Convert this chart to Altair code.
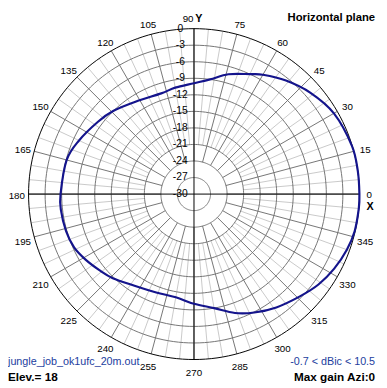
import altair as alt
import pandas as pd
import numpy as np

# ---------------- data ----------------
azimuth_deg = [0, 8, 17, 30, 41, 51, 60, 65, 74, 82, 90, 100, 108, 122, 134, 143,
               155, 165, 180, 187, 196, 204, 211, 219, 226, 237, 249, 260, 270,
               280, 289, 297, 306, 316, 324, 332, 340, 347, 355]
gain_db = [0.0, 0.0, -0.05, -0.7, -2.0, -3.5, -5.0, -6.0, -7.4, -9.0, -9.9, -10.4,
           -10.8, -10.2, -9.0, -8.2, -7.0, -6.1, -5.8, -5.7, -5.85, -6.2, -7.0,
           -8.0, -8.8, -10.2, -10.9, -11.0, -10.1, -9.0, -7.2, -5.9, -4.6, -3.3,
           -2.1, -1.2, -0.5, -0.1, 0.0]

ring_levels = [-27, -24, -21, -18, -15, -12, -9, -6, -3]
ring_label_levels = [0, -3, -6, -9, -12, -15, -18, -21, -24, -27, -30]
ring_label_texts = ["0", "-3", "-6", "-9", "-12", "-15", "-18", "-21", "-24", "-27", "-30"]

angle_label_deg = [0, 15, 30, 45, 60, 75, 90, 105, 120, 135, 150, 165, 180,
                   195, 210, 225, 240, 255, 270, 285, 300, 315, 330, 345]
angle_label_txt = [str(a) for a in angle_label_deg]

axis_letters = ["X", "Y"]
axis_letter_deg = [0, 90]

title_text = "Horizontal plane"
file_text = "jungle_job_ok1ufc_20m.out"
elev_text = "Elev.= 18"
range_text = "-0.7 < dBic < 10.5"
maxgain_text = "Max gain Azi:0"

# ---------------- geometry / style ----------------
R = 169          # radius (scale units) of the 0 dB ring
DBMIN = -30
LBL_R = 181
FONT = "Liberation Sans"

xs = alt.Scale(domain=[-190, 189], nice=False, zero=False)
ys = alt.Scale(domain=[-194, 186], nice=False, zero=False)


def rad(expr):
    return f"({expr} - ({DBMIN})) / {-DBMIN} * {R}"


# pattern curve
pat = pd.DataFrame({"az": azimuth_deg, "g": gain_db})
curve = alt.Chart(pat).transform_calculate(
    r=rad("datum.g")
).transform_calculate(
    x="datum.r * cos(datum.az * PI / 180)",
    y="datum.r * sin(datum.az * PI / 180)",
).mark_line(interpolate="cardinal-closed", color="#14148c", strokeWidth=2.2).encode(
    x=alt.X("x:Q", scale=xs, axis=None),
    y=alt.Y("y:Q", scale=ys, axis=None),
    order="az:Q",
)

# rings
ring_angles = np.arange(0, 361, 2)
rings_df = pd.DataFrame([(lv, a) for lv in ring_levels for a in ring_angles], columns=["lv", "a"])
outer_df = pd.DataFrame({"lv": 0, "a": ring_angles})


def ring_chart(df, color):
    return alt.Chart(df).transform_calculate(
        r=rad("datum.lv")
    ).transform_calculate(
        x="datum.r * cos(datum.a * PI / 180)",
        y="datum.r * sin(datum.a * PI / 180)",
    ).mark_line(color=color, strokeWidth=1).encode(
        x=alt.X("x:Q", scale=xs, axis=None),
        y=alt.Y("y:Q", scale=ys, axis=None),
        detail="lv:N",
        order="a:Q",
    )


rings = ring_chart(rings_df, "#747474")
outer = ring_chart(outer_df, "#000000")

# spokes
spk = pd.DataFrame({"a": np.arange(0, 360, 5)})
spk["major"] = spk["a"] % 15 == 0


def spoke_chart(df, r0, color):
    return alt.Chart(df).transform_calculate(
        x=f"{r0} * cos(datum.a * PI / 180)",
        y=f"{r0} * sin(datum.a * PI / 180)",
        x2=f"{R} * cos(datum.a * PI / 180)",
        y2=f"{R} * sin(datum.a * PI / 180)",
    ).mark_rule(color=color, strokeWidth=1).encode(
        x=alt.X("x:Q", scale=xs, axis=None),
        y=alt.Y("y:Q", scale=ys, axis=None),
        x2="x2:Q",
        y2="y2:Q",
    )


light_spokes = spoke_chart(spk[~spk["major"]], 9 / -DBMIN * R, "#c9c9c9")
dark_spokes = spoke_chart(spk[spk["major"]], 6 / -DBMIN * R, "#747474")

# main axes (X and Y)
axes_df = pd.DataFrame({"a": [0, 90]})
axes = alt.Chart(axes_df).transform_calculate(
    x=f"-{R} * cos(datum.a * PI / 180)",
    y=f"-{R} * sin(datum.a * PI / 180)",
    x2=f"{R} * cos(datum.a * PI / 180)",
    y2=f"{R} * sin(datum.a * PI / 180)",
).mark_rule(color="#000000", strokeWidth=1).encode(
    x=alt.X("x:Q", scale=xs, axis=None),
    y=alt.Y("y:Q", scale=ys, axis=None),
    x2="x2:Q",
    y2="y2:Q",
)

# ring labels along vertical axis
rl = pd.DataFrame({"lv": ring_label_levels, "t": ring_label_texts})
ring_labels = alt.Chart(rl).transform_calculate(
    y=rad("datum.lv"), x="-14"
).mark_text(font=FONT, fontSize=10.5, color="#000000", align="center", baseline="middle").encode(
    x=alt.X("x:Q", scale=xs, axis=None),
    y=alt.Y("y:Q", scale=ys, axis=None),
    text="t:N",
)

# angle labels
al = pd.DataFrame({"a": angle_label_deg, "t": angle_label_txt})
angle_labels = alt.Chart(al).transform_calculate(
    x=f"{LBL_R} * cos(datum.a * PI / 180) + (datum.a == 90 ? -6 : 0) + (datum.a == 0 ? -2 : 0)",
    y=f"{LBL_R} * sin(datum.a * PI / 180) - 2 + (datum.a == 0 ? 1 : 0)",
).mark_text(font=FONT, fontSize=10, color="#000000", align="center", baseline="middle").encode(
    x=alt.X("x:Q", scale=xs, axis=None),
    y=alt.Y("y:Q", scale=ys, axis=None),
    text="t:N",
)

lt = pd.DataFrame({"a": axis_letter_deg, "t": axis_letters})
letters = alt.Chart(lt).transform_calculate(
    x=f"{LBL_R} * cos(datum.a * PI / 180) + (datum.a == 90 ? 5 : -1)",
    y=f"{LBL_R} * sin(datum.a * PI / 180) - 2 + (datum.a == 0 ? -11 : 0)",
).mark_text(font=FONT, fontSize=11, fontWeight="bold", color="#000000",
            align="center", baseline="middle").encode(
    x=alt.X("x:Q", scale=xs, axis=None),
    y=alt.Y("y:Q", scale=ys, axis=None),
    text="t:N",
)

# annotations
one = pd.DataFrame({"k": [0]})


def note(text, x, y, align, bold, color, size):
    return alt.Chart(one).mark_text(
        text=text, font=FONT, fontSize=size, fontWeight="bold" if bold else "normal",
        color=color, align=align, baseline="middle",
    ).encode(x=alt.value(x), y=alt.value(y))


notes = [
    note(title_text, 375, 6, "right", True, "#000000", 11.5),
    note(file_text, 0, 358, "left", False, "#22409e", 11),
    note(elev_text, 0, 373, "left", True, "#000000", 12),
    note(range_text, 375, 358, "right", False, "#22409e", 11),
    note(maxgain_text, 375, 373, "right", True, "#000000", 12),
]

chart = alt.layer(
    light_spokes, dark_spokes, rings, outer, axes, ring_labels, curve,
    angle_labels, letters, *notes
).properties(
    width=379, height=380,
    autosize=alt.AutoSizeParams(type="none"),
    padding=0,
    background="#ffffff",
).configure_view(stroke=None)

chart.save("out.html", embed_options={"renderer": "svg", "actions": False})
